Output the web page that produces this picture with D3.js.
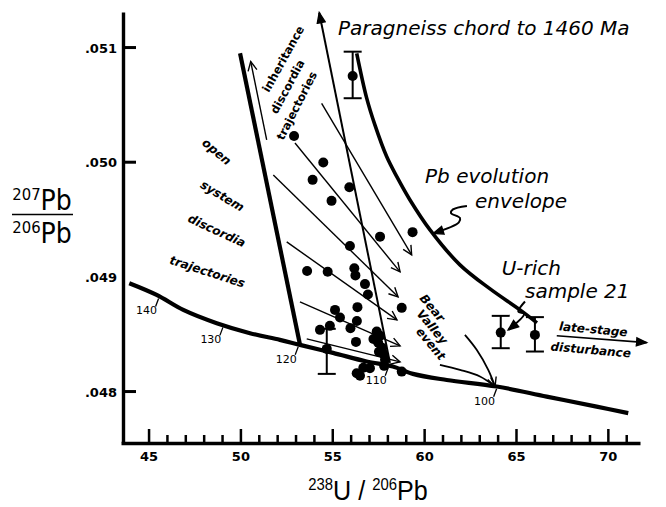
<!DOCTYPE html>
<html lang="en">
<head>
<meta charset="UTF-8">
<title>Tera-Wasserburg discordia plot</title>
<script src="https://d3js.org/d3.v7.min.js"></script>
<style>
  body { margin: 0; background: #fff; }
  svg { display: block; }
  text { font-family: "DejaVu Sans", sans-serif; fill: #000; }
  .tick text { font-size: 13px; font-weight: bold; }
  .big { font-style: oblique; font-size: 20px; }
  .bold { font-style: oblique; font-weight: bold; font-size: 12px; }
  .inh { font-weight: bold; font-size: 11.5px; }
  .age { font-size: 11px; }
  .axlabel { font-family: "Liberation Sans", Arial, sans-serif; }
</style>
</head>
<body>
<div id="chart"></div>
<script>
// axis ticks (238U/206Pb on x, 207Pb/206Pb on y)
const xTicks = [45, 50, 55, 60, 65, 70];
const xMinor = [46, 47, 48, 49, 51, 52, 53, 54, 56, 57, 58, 59, 61, 62, 63, 64, 66, 67, 68, 69, 71];
const yTicks = [0.048, 0.049, 0.050, 0.051];
const yTickMarks = [0.048, 0.050, 0.051];

// concordia curve and its age marks (Ma)
const concX = [43.95, 45.44, 46.89, 48.71, 50.52, 52.15, 53.24, 55.04, 56.87, 58.30, 59.39, 61.23, 63.95, 66.67, 69.39, 71.11];
const concY = [0.048945, 0.048843, 0.048712, 0.048596, 0.048509, 0.048451, 0.048407, 0.048337, 0.048262, 0.048218, 0.048154, 0.048101, 0.048044, 0.047956, 0.047869, 0.047812];
const ages = [140, 130, 120, 110, 100];
const ageX = [45.6, 49.1, 53.2, 58.1, 64.0];

// Pb evolution envelope
const envX = [56.33, 56.87, 57.32, 57.96, 58.52, 59.23, 60.32, 61.95, 63.59, 65.22, 66.14];
const envY = [0.050950, 0.050561, 0.050325, 0.050049, 0.049872, 0.049671, 0.049410, 0.049105, 0.048895, 0.048712, 0.048599];

// open-system boundary and paragneiss chord (bottom -> top)
const openX = [49.98, 53.24];
const openY = [0.050950, 0.048410];
const chordX = [58.14, 54.29];
const chordY = [0.048250, 0.051304];

// analyses
const dotX = [52.92, 54.51, 53.93, 55.93, 54.96, 57.60, 59.37, 55.96, 53.63, 54.75, 56.20, 56.26, 56.78, 56.94,
  58.78, 55.15, 55.42, 56.37, 56.34, 55.99, 56.29, 54.33, 54.87, 57.42, 57.60, 57.24, 57.50, 57.71, 57.78,
  57.87, 57.54, 56.33, 56.69, 57.05, 56.51, 58.78, 57.82];
const dotY = [0.050229, 0.049998, 0.049846, 0.049782, 0.049663, 0.049351, 0.049390, 0.049270, 0.049052, 0.049044,
  0.049076, 0.049013, 0.048937, 0.048846, 0.048730, 0.048712, 0.048645, 0.048736, 0.048616, 0.048553, 0.048433,
  0.048538, 0.048573, 0.048523, 0.048486, 0.048459, 0.048425, 0.048381, 0.048329, 0.048277, 0.048346, 0.048160,
  0.048207, 0.048204, 0.048137, 0.048174, 0.048224];

// analyses with error bars
const errX = [56.11, 54.70, 64.17, 66.03];
const errY = [0.050752, 0.048372, 0.048514, 0.048494];
const errLo = [0.050558, 0.048154, 0.048378, 0.048349];
const errHi = [0.050964, 0.048547, 0.048660, 0.048649];

// discordia trajectories (start -> arrow tip)
const trajX0 = [54.42, 52.97, 51.79, 52.52, 53.24, 53.61];
const trajY0 = [0.050514, 0.050168, 0.049889, 0.049305, 0.048782, 0.048459];
const trajX1 = [59.32, 58.69, 58.58, 58.52, 58.69, 58.69];
const trajY1 = [0.049192, 0.049044, 0.048826, 0.048625, 0.048398, 0.048259];
const inhX = [51.43, 50.56];
const inhY = [0.050194, 0.050877];

// Bear Valley event arrows, late-stage arrow, pointers
const bvAX = [62.22, 62.86, 63.49, 63.86];
const bvAY = [0.048494, 0.048364, 0.048189, 0.048044];
const bvBX = [60.86, 61.95, 63.04, 63.86];
const bvBY = [0.048233, 0.048189, 0.048131, 0.048044];
const lateX = [67.22, 72.11];
const lateY = [0.048486, 0.048427];
const envPtrX = [62.33, 61.57, 61.46, 61.95, 61.89, 60.50];
const envPtrY = [0.049619, 0.049589, 0.049558, 0.049514, 0.049475, 0.049379];
const uPtrX = [65.49, 65.13, 65.44, 64.58];
const uPtrY = [0.048785, 0.048697, 0.048677, 0.048538];

// annotations: text, x, y, angle
const chordNote = ["Paragneiss chord to 1460 Ma", 55.31, 0.051110];
const bigNotes = [["Pb evolution", 60.05, 0.049820], ["envelope", 62.77, 0.049602],
  ["U-rich", 64.22, 0.049017], ["sample 21", 65.49, 0.048817]];
const boldNotes = [["open", 48.71, 0.050092, 40], ["system", 49.02, 0.049706, 31],
  ["discordia", 48.71, 0.049404, 25], ["trajectories", 48.20, 0.049046, 18],
  ["Bear", 60.45, 0.048730, 50], ["Valley", 60.45, 0.048564, 50], ["event", 60.37, 0.048416, 50],
  ["late-stage", 69.21, 0.048544, 5], ["disturbance", 69.07, 0.048364, 5]];
const inhNotes = [["inheritance", 52.33, 0.050901, -61], ["discordia", 52.56, 0.050659, -62],
  ["trajectories", 53.06, 0.050493, -63]];

const width = 666, height = 507;
const x = d3.scaleLinear().domain([43.5, 71.75]).range([121, 640]);
const y = d3.scaleLinear().domain([0.04756, 0.05131]).range([442, 12]);
const onConcordia = d3.scaleLinear().domain(concX).range(concY);

const svg = d3.select("#chart").append("svg")
  .attr("width", width).attr("height", height);

const defs = svg.append("defs");
function marker(id, filled) {
  defs.append("marker")
    .attr("id", id)
    .attr("viewBox", "-11 -6 13 12")
    .attr("refX", 0).attr("refY", 0)
    .attr("markerWidth", 13).attr("markerHeight", 12)
    .attr("markerUnits", "userSpaceOnUse")
    .attr("orient", "auto")
    .append("path")
    .attr("d", filled ? "M-10,-4L0,0L-10,4Z" : "M-9,-4.5L0,0L-9,4.5")
    .attr("fill", filled ? "#000" : "none")
    .attr("stroke", "#000")
    .attr("stroke-width", 1.4);
}
marker("open", false);
marker("solid", true);

const pts = (xs, ys) => xs.map((v, i) => [x(v), y(ys[i])]);
const straight = d3.line();
const smooth = d3.line().curve(d3.curveCatmullRom);

// axes
const xAxis = svg.append("g")
  .attr("transform", `translate(0,${y.range()[0] + 1})`)
  .call(d3.axisBottom(x).tickValues(xTicks).tickSizeInner(-14).tickSizeOuter(0)
    .tickPadding(9).tickFormat(d3.format("d")));
svg.append("g")
  .attr("transform", `translate(0,${y.range()[0] + 1})`)
  .call(d3.axisBottom(x).tickValues(xMinor).tickSizeInner(-8).tickSizeOuter(0).tickFormat(""))
  .select(".domain").remove();
xAxis.select(".domain").attr("stroke-width", 3.4);

const yAxis = svg.append("g")
  .attr("transform", `translate(${x.range()[0] + 2},0)`)
  .call(d3.axisLeft(y).tickValues(yTicks).tickSize(0).tickPadding(6)
    .tickFormat(d => d3.format(".3f")(d).replace(/^0/, "")));
yAxis.select(".domain").attr("stroke-width", 3.4);
yAxis.selectAll(".tick text").attr("dy", "0.35em");
svg.append("g")
  .selectAll("line").data(yTickMarks).join("line")
  .attr("x1", x.range()[0] + 2).attr("x2", x.range()[0] + 15)
  .attr("y1", d => y(d)).attr("y2", d => y(d))
  .attr("stroke", "#000").attr("stroke-width", 3);
svg.selectAll(".tick line").attr("stroke-width", 2.5);

// axis titles
const yl = svg.append("g").attr("class", "axlabel").attr("transform", "translate(42,0)");
const yTop = yl.append("text").attr("text-anchor", "middle").attr("transform", "translate(0,210) scale(0.9,1)");
yTop.append("tspan").attr("font-size", 16.5).attr("dy", -10).text("207");
yTop.append("tspan").attr("font-size", 28).attr("dy", 10).text("Pb");
yl.append("line").attr("x1", -30).attr("x2", 31).attr("y1", 214.5).attr("y2", 214.5)
  .attr("stroke", "#000").attr("stroke-width", 1.6);
const yBot = yl.append("text").attr("text-anchor", "middle").attr("transform", "translate(0,243) scale(0.9,1)");
yBot.append("tspan").attr("font-size", 16.5).attr("dy", -10).text("206");
yBot.append("tspan").attr("font-size", 28).attr("dy", 10).text("Pb");

const xl = svg.append("text").attr("class", "axlabel").attr("text-anchor", "middle")
  .attr("transform", "translate(368,500) scale(0.93,1)");
xl.append("tspan").attr("font-size", 16).attr("dy", -10).text("238");
xl.append("tspan").attr("font-size", 27).attr("dy", 10).text("U / ");
xl.append("tspan").attr("font-size", 16).attr("dy", -10).text("206");
xl.append("tspan").attr("font-size", 27).attr("dy", 10).text("Pb");

// heavy curves
svg.append("path").attr("d", smooth(pts(concX, concY)))
  .attr("fill", "none").attr("stroke", "#000").attr("stroke-width", 4.2);
svg.append("path").attr("d", smooth(pts(envX, envY)))
  .attr("fill", "none").attr("stroke", "#000").attr("stroke-width", 3.6);
svg.append("path").attr("d", straight(pts(openX, openY)))
  .attr("fill", "none").attr("stroke", "#000").attr("stroke-width", 4.2);
svg.append("path").attr("d", straight(pts(chordX, chordY)))
  .attr("fill", "none").attr("stroke", "#000").attr("stroke-width", 2)
  .attr("marker-end", "url(#solid)");

// age marks on concordia
ageX.forEach((a, i) => {
  const px = x(a), py = y(onConcordia(a));
  svg.append("line")
    .attr("x1", px - 1).attr("y1", py + 2).attr("x2", px - 4).attr("y2", py + 10)
    .attr("stroke", "#000").attr("stroke-width", 1.3);
  svg.append("text").attr("class", "age").attr("text-anchor", "middle")
    .attr("x", px - 13).attr("y", py + 14).attr("dy", "0.35em")
    .text(ages[i]);
});

// discordia trajectories
svg.append("g").selectAll("line").data(trajX0).join("line")
  .attr("x1", d => x(d)).attr("y1", (d, i) => y(trajY0[i]))
  .attr("x2", (d, i) => x(trajX1[i])).attr("y2", (d, i) => y(trajY1[i]))
  .attr("stroke", "#000").attr("stroke-width", 1.4)
  .attr("marker-end", "url(#open)");
svg.append("path").attr("d", straight(pts(inhX, inhY)))
  .attr("fill", "none").attr("stroke", "#000").attr("stroke-width", 1.4)
  .attr("marker-end", "url(#open)");

// Bear Valley arrows, late-stage arrow, pointers
[[bvAX, bvAY], [bvBX, bvBY]].forEach(([xs, ys]) => {
  svg.append("path").attr("d", smooth(pts(xs, ys)))
    .attr("fill", "none").attr("stroke", "#000").attr("stroke-width", 1.8)
    .attr("marker-end", "url(#open)");
});
svg.append("path").attr("d", straight(pts(lateX, lateY)))
  .attr("fill", "none").attr("stroke", "#000").attr("stroke-width", 1.6)
  .attr("marker-end", "url(#solid)");
[[envPtrX, envPtrY], [uPtrX, uPtrY]].forEach(([xs, ys]) => {
  svg.append("path").attr("d", smooth(pts(xs, ys)))
    .attr("fill", "none").attr("stroke", "#000").attr("stroke-width", 2)
    .attr("marker-end", "url(#solid)");
});

// points
svg.append("g").selectAll("circle").data(dotX).join("circle")
  .attr("cx", d => x(d)).attr("cy", (d, i) => y(dotY[i])).attr("r", 5);

// error bars
const eb = svg.append("g").attr("stroke", "#000").attr("stroke-width", 2);
errX.forEach((v, i) => {
  const px = x(v);
  eb.append("line").attr("x1", px).attr("x2", px).attr("y1", y(errLo[i])).attr("y2", y(errHi[i]));
  [errLo[i], errHi[i]].forEach(e => {
    eb.append("line").attr("x1", px - 9).attr("x2", px + 9).attr("y1", y(e)).attr("y2", y(e));
  });
  svg.append("circle").attr("cx", px).attr("cy", y(errY[i])).attr("r", 5);
});

// annotations
svg.append("text").attr("class", "big").attr("font-size", 21.5)
  .attr("x", x(chordNote[1])).attr("y", y(chordNote[2])).text(chordNote[0]);
svg.append("g").selectAll("text").data(bigNotes).join("text")
  .attr("class", "big")
  .attr("x", d => x(d[1])).attr("y", d => y(d[2])).text(d => d[0]);
svg.append("g").selectAll("text").data(boldNotes).join("text")
  .attr("class", "bold").attr("text-anchor", "middle").attr("dy", "0.35em")
  .attr("transform", d => `translate(${x(d[1])},${y(d[2])}) rotate(${d[3]})`)
  .text(d => d[0]);
svg.append("g").selectAll("text").data(inhNotes).join("text")
  .attr("class", "inh").attr("text-anchor", "middle").attr("dy", "0.35em")
  .attr("transform", d => `translate(${x(d[1])},${y(d[2])}) rotate(${d[3]})`)
  .text(d => d[0]);
</script>
</body>
</html>
